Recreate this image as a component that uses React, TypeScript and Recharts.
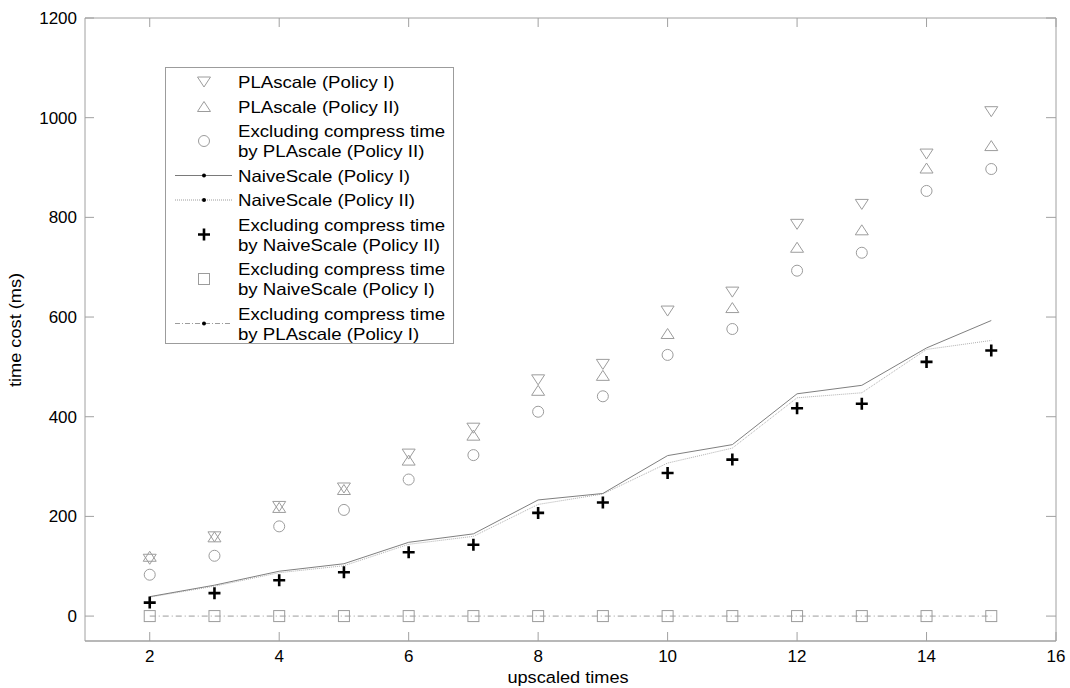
import { ComposedChart, Line, XAxis, YAxis, Legend } from "recharts"

// values
const upscaled = [2, 3, 4, 5, 6, 7, 8, 9, 10, 11, 12, 13, 14, 15]
const plaPolicyI = [114, 159, 220, 257, 325, 377, 474, 505, 612, 650, 786, 826, 927, 1012]
const plaPolicyII = [120, 159, 218, 254, 313, 363, 453, 483, 567, 619, 740, 775, 899, 944]
const plaExclII = [83, 121, 180, 213, 274, 323, 410, 441, 524, 576, 693, 729, 853, 897]
const naivePolicyI = [39, 62, 90, 105, 148, 165, 233, 246, 322, 344, 446, 463, 538, 593]
const naivePolicyII = [38, 60, 87, 101, 144, 160, 224, 245, 307, 337, 438, 448, 535, 553]
const naiveExclII = [27, 46, 72, 88, 128, 143, 207, 228, 287, 314, 417, 426, 510, 533]
const naiveExclI = [0, 0, 0, 0, 0, 0, 0, 0, 0, 0, 0, 0, 0, 0]
const plaExclI = [0, 0, 0, 0, 0, 0, 0, 0, 0, 0, 0, 0, 0, 0]

const xTicks = [2, 4, 6, 8, 10, 12, 14, 16]
const yTicks = [0, 200, 400, 600, 800, 1000, 1200]

const legendRows = [
  { kind: "down", lines: ["PLAscale (Policy I)"] },
  { kind: "up", lines: ["PLAscale (Policy II)"] },
  { kind: "circle", lines: ["Excluding compress time", "by PLAscale (Policy II)"] },
  { kind: "solid", lines: ["NaiveScale (Policy I)"] },
  { kind: "dotted", lines: ["NaiveScale (Policy II)"] },
  { kind: "plus", lines: ["Excluding compress time", "by NaiveScale (Policy II)"] },
  { kind: "square", lines: ["Excluding compress time", "by NaiveScale (Policy I)"] },
  { kind: "dashdot", lines: ["Excluding compress time", "by PLAscale (Policy I)"] },
]

const data = upscaled.map((x, i) => ({
  x,
  plaI: plaPolicyI[i],
  plaII: plaPolicyII[i],
  plaExII: plaExclII[i],
  naiveI: naivePolicyI[i],
  naiveII: naivePolicyII[i],
  naiveExII: naiveExclII[i],
  naiveExI: naiveExclI[i],
  plaExI: plaExclI[i],
}))

const GRAY = "#9c9c9c"
const AXIS = "#a0a0a0"
const FONT = "'Liberation Sans', Arial, sans-serif"

const marker = (kind: string, cx: number, cy: number, key?: string) => {
  if (kind === "down")
    return <path key={key} d={`M${cx - 6.5},${cy - 5}L${cx + 6.5},${cy - 5}L${cx},${cy + 5}Z`} fill="none" stroke={GRAY} />
  if (kind === "up")
    return <path key={key} d={`M${cx - 6.5},${cy + 5}L${cx + 6.5},${cy + 5}L${cx},${cy - 5}Z`} fill="none" stroke={GRAY} />
  if (kind === "circle") return <circle key={key} cx={cx} cy={cy} r={5.5} fill="none" stroke={GRAY} />
  if (kind === "square")
    return <rect key={key} x={cx - 5.5} y={cy - 5.5} width={11} height={11} fill="none" stroke={GRAY} />
  if (kind === "plus")
    return (
      <path key={key} d={`M${cx - 6},${cy}L${cx + 6},${cy}M${cx},${cy - 6}L${cx},${cy + 6}`} stroke="#000" strokeWidth={2.6} />
    )
  return <g key={key} />
}

const dotOf = (kind: string) => (props: any) => marker(kind, props.cx, props.cy, `${kind}-${props.index}`)

const BottomTick = ({ x, y, payload }: any) => (
  <g>
    <line x1={x} y1={y} x2={x} y2={y - 9} stroke={AXIS} />
    <text x={x} y={y + 21} textAnchor="middle" fontSize={17} fill="#000">
      {payload.value}
    </text>
  </g>
)
const TopTick = ({ x, y }: any) => <line x1={x} y1={y} x2={x} y2={y + 9} stroke={AXIS} />
const LeftTick = ({ x, y, payload }: any) => (
  <g>
    <line x1={x} y1={y} x2={x + 9} y2={y} stroke={AXIS} />
    <text x={x - 8} y={y + 6} textAnchor="end" fontSize={17} fill="#000">
      {payload.value}
    </text>
  </g>
)
const RightTick = ({ x, y }: any) => <line x1={x} y1={y} x2={x - 10} y2={y} stroke={AXIS} />

const LegendBox = () => {
  let y = 15
  const items: any[] = []
  legendRows.forEach((row, i) => {
    const n = row.lines.length
    const mid = n === 1 ? y : y + 10
    const mx = 39
    if (row.kind === "solid" || row.kind === "dotted" || row.kind === "dashdot") {
      const dash = row.kind === "dotted" ? "1 1" : row.kind === "dashdot" ? "5 2 1 2" : undefined
      const col = row.kind === "solid" ? "#7a7a7a" : GRAY
      items.push(<line key={`l${i}`} x1={10} y1={mid} x2={67} y2={mid} stroke={col} strokeDasharray={dash} />)
      items.push(<circle key={`c${i}`} cx={mx} cy={mid} r={2} fill="#000" />)
    } else {
      items.push(marker(row.kind, mx, mid, `m${i}`))
    }
    row.lines.forEach((t, j) => {
      items.push(
        <text key={`t${i}-${j}`} transform={`translate(73,${y + j * 20 + 6}) scale(1.13,1)`} fontSize={16.5} fill="#000">
          {t}
        </text>
      )
    })
    y += n === 1 ? 24.5 : 44.5
  })
  return (
    <svg width={290} height={278} style={{ display: "block", fontFamily: FONT }}>
      <rect x={0.5} y={0.5} width={288} height={276} fill="#fff" stroke={GRAY} />
      {items}
    </svg>
  )
}

export default function App() {
  return (
    <div style={{ position: "absolute", left: 0, top: 0, width: 1070, height: 688, background: "#fff", fontFamily: FONT }}>
      <ComposedChart width={1070} height={688} data={data} margin={{ top: 16, right: 12, bottom: 17, left: 25 }}>
        <XAxis
          xAxisId="b"
          dataKey="x"
          type="number"
          domain={[1, 16]}
          ticks={xTicks}
          height={30}
          tickSize={0}
          tickMargin={0}
          tickLine={false}
          tick={<BottomTick />}
          axisLine={{ stroke: AXIS, strokeWidth: 1.5 }}
          label={{
            content: () => (
              <text transform="translate(568,683) scale(1.07,1)" textAnchor="middle" fontSize={17} fill="#000" fontFamily={FONT}>
                upscaled times
              </text>
            ),
          }}
        />
        <XAxis
          xAxisId="t"
          orientation="top"
          dataKey="x"
          type="number"
          domain={[1, 16]}
          ticks={xTicks}
          height={2}
          tickSize={0}
          tickMargin={0}
          tickLine={false}
          tick={<TopTick />}
          axisLine={{ stroke: AXIS }}
        />
        <YAxis
          yAxisId="l"
          type="number"
          domain={[-50, 1200]}
          ticks={yTicks}
          width={60}
          tickSize={0}
          tickMargin={0}
          tickLine={false}
          tick={<LeftTick />}
          axisLine={{ stroke: AXIS }}
          allowDataOverflow
          label={{
            content: () => (
              <text transform="translate(21,330) rotate(-90) scale(1.07,1)" textAnchor="middle" fontSize={17} fill="#000" fontFamily={FONT}>
                time cost (ms)
              </text>
            ),
          }}
        />
        <YAxis
          yAxisId="r"
          orientation="right"
          type="number"
          domain={[-50, 1200]}
          ticks={yTicks}
          width={2}
          tickSize={0}
          tickMargin={0}
          tickLine={false}
          tick={<RightTick />}
          axisLine={{ stroke: AXIS }}
          allowDataOverflow
        />
        <Legend
          verticalAlign="middle"
          align="center"
          layout="horizontal"
          content={() => <LegendBox />}
          wrapperStyle={{ position: "absolute", left: 165, top: 67, width: 290, height: 278 }}
        />
        <Line xAxisId="b" yAxisId="l" dataKey="plaExI" stroke={GRAY} strokeDasharray="6 3 1 3" dot={false} activeDot={false} isAnimationActive={false} />
        <Line xAxisId="b" yAxisId="l" dataKey="naiveII" stroke="#b0b0b0" strokeDasharray="1 1" dot={false} activeDot={false} isAnimationActive={false} />
        <Line xAxisId="b" yAxisId="l" dataKey="naiveI" stroke="#7f7f7f" dot={false} activeDot={false} isAnimationActive={false} />
        <Line xAxisId="b" yAxisId="l" dataKey="naiveExI" stroke="none" dot={dotOf("square")} activeDot={false} isAnimationActive={false} />
        <Line xAxisId="b" yAxisId="l" dataKey="plaI" stroke="none" dot={dotOf("down")} activeDot={false} isAnimationActive={false} />
        <Line xAxisId="b" yAxisId="l" dataKey="plaII" stroke="none" dot={dotOf("up")} activeDot={false} isAnimationActive={false} />
        <Line xAxisId="b" yAxisId="l" dataKey="plaExII" stroke="none" dot={dotOf("circle")} activeDot={false} isAnimationActive={false} />
        <Line xAxisId="b" yAxisId="l" dataKey="naiveExII" stroke="none" dot={dotOf("plus")} activeDot={false} isAnimationActive={false} />
      </ComposedChart>
    </div>
  )
}
